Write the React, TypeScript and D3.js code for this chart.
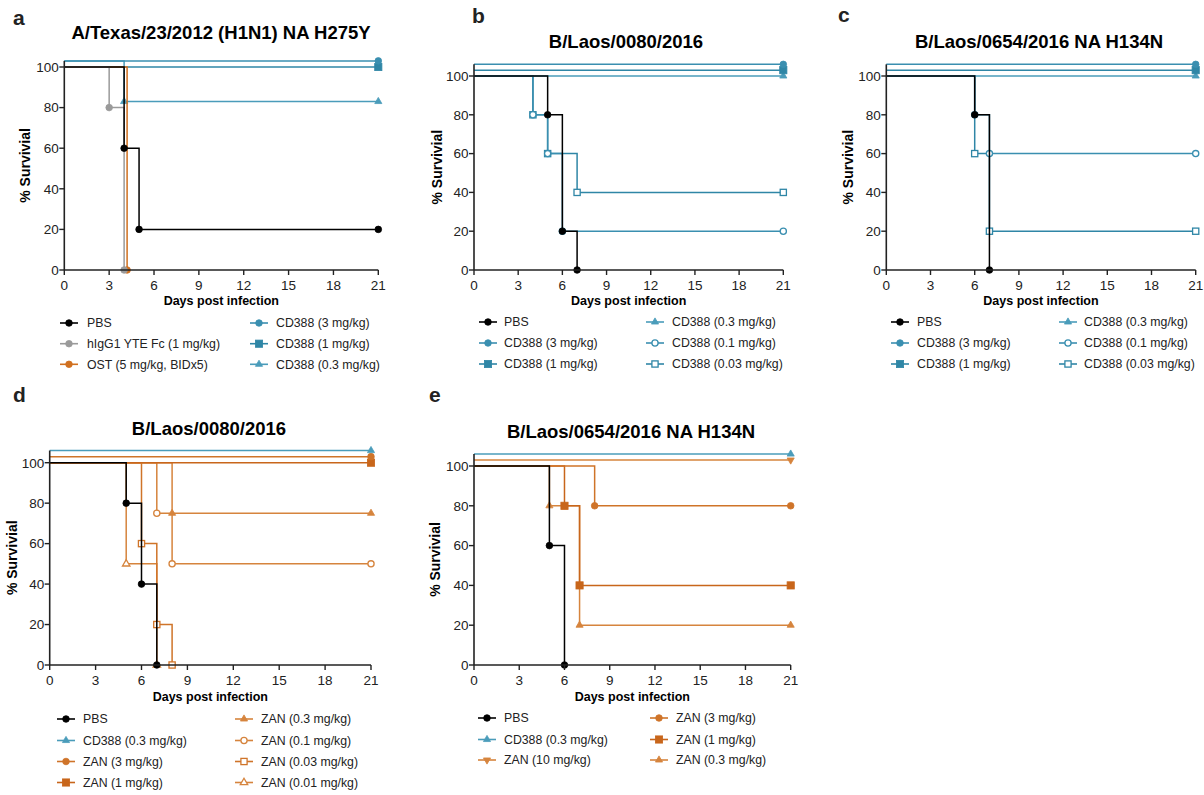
import React from "react";
import * as d3 from "d3";

// ---------- shared ticks ----------
const DAY_TICKS = [0, 3, 6, 9, 12, 15, 18, 21];
const SURV_TICKS = [0, 20, 40, 60, 80, 100];

// ---------- panel a : A/Texas/23/2012 (H1N1) NA H275Y ----------
const A_PBS_DAYS = [0, 4, 5, 21];
const A_PBS_SURV = [100, 60, 20, 20];
const A_IGG_DAYS = [0, 3, 4];
const A_IGG_SURV = [100, 80, 0];
const A_OST_DAYS = [0, 4.2];
const A_OST_SURV = [100, 0];
const A_CD3_DAYS = [0, 21];
const A_CD3_SURV = [100, 100];
const A_CD1_DAYS = [0, 21];
const A_CD1_SURV = [100, 100];
const A_CD03_DAYS = [0, 4, 21];
const A_CD03_SURV = [100, 80, 80];

// ---------- panel b : B/Laos/0080/2016 ----------
const B_PBS_DAYS = [0, 5, 6, 7];
const B_PBS_SURV = [100, 80, 20, 0];
const B_CD3_DAYS = [0, 21];
const B_CD3_SURV = [100, 100];
const B_CD1_DAYS = [0, 21];
const B_CD1_SURV = [100, 100];
const B_CD03_DAYS = [0, 21];
const B_CD03_SURV = [100, 100];
const B_CD01_DAYS = [0, 4, 5, 6, 21];
const B_CD01_SURV = [100, 80, 60, 20, 20];
const B_CD003_DAYS = [0, 4, 5, 7, 21];
const B_CD003_SURV = [100, 80, 60, 40, 40];

// ---------- panel c : B/Laos/0654/2016 NA H134N ----------
const C_PBS_DAYS = [0, 6, 7];
const C_PBS_SURV = [100, 80, 0];
const C_CD3_DAYS = [0, 21];
const C_CD3_SURV = [100, 100];
const C_CD1_DAYS = [0, 21];
const C_CD1_SURV = [100, 100];
const C_CD03_DAYS = [0, 21];
const C_CD03_SURV = [100, 100];
const C_CD01_DAYS = [0, 6, 7, 21];
const C_CD01_SURV = [100, 80, 60, 60];
const C_CD003_DAYS = [0, 6, 7, 21];
const C_CD003_SURV = [100, 60, 20, 20];

// ---------- panel d : B/Laos/0080/2016 ----------
const D_PBS_DAYS = [0, 5, 6, 7];
const D_PBS_SURV = [100, 80, 40, 0];
const D_CD03_DAYS = [0, 21];
const D_CD03_SURV = [100, 100];
const D_ZAN3_DAYS = [0, 21];
const D_ZAN3_SURV = [100, 100];
const D_ZAN1_DAYS = [0, 21];
const D_ZAN1_SURV = [100, 100];
const D_ZAN03_DAYS = [0, 8, 21];
const D_ZAN03_SURV = [100, 75, 75];
const D_ZAN01_DAYS = [0, 7, 8, 21];
const D_ZAN01_SURV = [100, 75, 50, 50];
const D_ZAN003_DAYS = [0, 6, 7, 8];
const D_ZAN003_SURV = [100, 60, 20, 0];
const D_ZAN001_DAYS = [0, 5, 7];
const D_ZAN001_SURV = [100, 50, 0];

// ---------- panel e : B/Laos/0654/2016 NA H134N ----------
const E_PBS_DAYS = [0, 5, 6];
const E_PBS_SURV = [100, 60, 0];
const E_CD03_DAYS = [0, 21];
const E_CD03_SURV = [100, 100];
const E_ZAN10_DAYS = [0, 21];
const E_ZAN10_SURV = [100, 100];
const E_ZAN3_DAYS = [0, 8, 21];
const E_ZAN3_SURV = [100, 80, 80];
const E_ZAN1_DAYS = [0, 6, 7, 21];
const E_ZAN1_SURV = [100, 80, 40, 40];
const E_ZAN03_DAYS = [0, 5, 7, 21];
const E_ZAN03_SURV = [100, 80, 20, 20];

// ---------- styles ----------
const BLACK = "#000000";
const GRAY = "#9a9a9a";
const OST = "#d0701f";
const TEAL_A = "#3a8fb0";
const TEAL_B = "#2f86a6";
const TEAL_C = "#4a9cba";
const ZAN_DARK = "#c8661b";
const ZAN_MID = "#cf7429";
const ZAN_LIGHT = "#d6843d";
const FONT = "'Liberation Sans', Arial, Helvetica, sans-serif";

type Shape = "circle" | "square" | "triangle" | "triangleDown";
interface Series {
  label: string;
  days: number[];
  surv: number[];
  offset: number;
  color: string;
  shape: Shape;
  filled: boolean;
}
interface PanelCfg {
  letter: string;
  letterX: number;
  letterY: number;
  title: string;
  titleX: number;
  titleY: number;
  x0: number;
  x1: number;
  y100: number;
  y0: number;
  ylabX: number;
  xlabY: number;
  legendRows: number[];
  legendCols: number[];
  legendTextCols: number[];
  perCol: number;
  series: Series[];
}

const mk = (label: string, days: number[], surv: number[], offset: number, color: string, shape: Shape, filled: boolean): Series =>
  ({ label, days, surv, offset, color, shape, filled });

const PANELS: PanelCfg[] = [
  {
    letter: "a", letterX: 13, letterY: 25,
    title: "A/Texas/23/2012 (H1N1) NA H275Y", titleX: 221, titleY: 39,
    x0: 64.3, x1: 378.3, y100: 67, y0: 270, ylabX: 25, xlabY: 305,
    legendRows: [323, 343.7, 364.3], legendCols: [60, 250], legendTextCols: [87, 276], perCol: 3,
    series: [
      mk("PBS", A_PBS_DAYS, A_PBS_SURV, 0, BLACK, "circle", true),
      mk("hIgG1 YTE Fc (1 mg/kg)", A_IGG_DAYS, A_IGG_SURV, 0, GRAY, "circle", true),
      mk("OST (5 mg/kg, BIDx5)", A_OST_DAYS, A_OST_SURV, 0, OST, "circle", true),
      mk("CD388 (3 mg/kg)", A_CD3_DAYS, A_CD3_SURV, 3, TEAL_A, "circle", true),
      mk("CD388 (1 mg/kg)", A_CD1_DAYS, A_CD1_SURV, 0, TEAL_B, "square", true),
      mk("CD388 (0.3 mg/kg)", A_CD03_DAYS, A_CD03_SURV, 3, TEAL_C, "triangle", true),
    ],
  },
  {
    letter: "b", letterX: 472, letterY: 23,
    title: "B/Laos/0080/2016", titleX: 626, titleY: 48,
    x0: 474, x1: 783.3, y100: 76, y0: 270, ylabX: 437, xlabY: 305,
    legendRows: [322, 343, 364], legendCols: [479, 646], legendTextCols: [504, 672], perCol: 3,
    series: [
      mk("PBS", B_PBS_DAYS, B_PBS_SURV, 0, BLACK, "circle", true),
      mk("CD388 (3 mg/kg)", B_CD3_DAYS, B_CD3_SURV, 6, TEAL_A, "circle", true),
      mk("CD388 (1 mg/kg)", B_CD1_DAYS, B_CD1_SURV, 3, TEAL_B, "square", true),
      mk("CD388 (0.3 mg/kg)", B_CD03_DAYS, B_CD03_SURV, 0, TEAL_C, "triangle", true),
      mk("CD388 (0.1 mg/kg)", B_CD01_DAYS, B_CD01_SURV, 0, TEAL_A, "circle", false),
      mk("CD388 (0.03 mg/kg)", B_CD003_DAYS, B_CD003_SURV, 0, TEAL_B, "square", false),
    ],
  },
  {
    letter: "c", letterX: 838, letterY: 22,
    title: "B/Laos/0654/2016 NA H134N", titleX: 1039, titleY: 48,
    x0: 886.3, x1: 1195.7, y100: 76, y0: 270, ylabX: 848, xlabY: 305,
    legendRows: [322, 343, 364], legendCols: [891, 1059], legendTextCols: [917, 1084], perCol: 3,
    series: [
      mk("PBS", C_PBS_DAYS, C_PBS_SURV, 0, BLACK, "circle", true),
      mk("CD388 (3 mg/kg)", C_CD3_DAYS, C_CD3_SURV, 6, TEAL_A, "circle", true),
      mk("CD388 (1 mg/kg)", C_CD1_DAYS, C_CD1_SURV, 3, TEAL_B, "square", true),
      mk("CD388 (0.3 mg/kg)", C_CD03_DAYS, C_CD03_SURV, 0, TEAL_C, "triangle", true),
      mk("CD388 (0.1 mg/kg)", C_CD01_DAYS, C_CD01_SURV, 0, TEAL_A, "circle", false),
      mk("CD388 (0.03 mg/kg)", C_CD003_DAYS, C_CD003_SURV, 0, TEAL_B, "square", false),
    ],
  },
  {
    letter: "d", letterX: 13, letterY: 402,
    title: "B/Laos/0080/2016", titleX: 209, titleY: 435,
    x0: 49.7, x1: 371, y100: 462.7, y0: 665, ylabX: 12, xlabY: 701,
    legendRows: [719, 740.5, 761.5, 782.5], legendCols: [57, 235], legendTextCols: [83, 261], perCol: 4,
    series: [
      mk("PBS", D_PBS_DAYS, D_PBS_SURV, 0, BLACK, "circle", true),
      mk("CD388 (0.3 mg/kg)", D_CD03_DAYS, D_CD03_SURV, 6, TEAL_C, "triangle", true),
      mk("ZAN (3 mg/kg)", D_ZAN3_DAYS, D_ZAN3_SURV, 3, ZAN_MID, "circle", true),
      mk("ZAN (1 mg/kg)", D_ZAN1_DAYS, D_ZAN1_SURV, 0, ZAN_DARK, "square", true),
      mk("ZAN (0.3 mg/kg)", D_ZAN03_DAYS, D_ZAN03_SURV, 0, ZAN_LIGHT, "triangle", true),
      mk("ZAN (0.1 mg/kg)", D_ZAN01_DAYS, D_ZAN01_SURV, 0, ZAN_LIGHT, "circle", false),
      mk("ZAN (0.03 mg/kg)", D_ZAN003_DAYS, D_ZAN003_SURV, 0, ZAN_MID, "square", false),
      mk("ZAN (0.01 mg/kg)", D_ZAN001_DAYS, D_ZAN001_SURV, 0, ZAN_LIGHT, "triangle", false),
    ],
  },
  {
    letter: "e", letterX: 429, letterY: 402,
    title: "B/Laos/0654/2016 NA H134N", titleX: 631, titleY: 438,
    x0: 474, x1: 790.7, y100: 466, y0: 665, ylabX: 435, xlabY: 701,
    legendRows: [718, 739.5, 760], legendCols: [478, 650], legendTextCols: [504, 676], perCol: 3,
    series: [
      mk("PBS", E_PBS_DAYS, E_PBS_SURV, 0, BLACK, "circle", true),
      mk("CD388 (0.3 mg/kg)", E_CD03_DAYS, E_CD03_SURV, 6, TEAL_C, "triangle", true),
      mk("ZAN (10 mg/kg)", E_ZAN10_DAYS, E_ZAN10_SURV, 3, ZAN_LIGHT, "triangleDown", true),
      mk("ZAN (3 mg/kg)", E_ZAN3_DAYS, E_ZAN3_SURV, 0, ZAN_MID, "circle", true),
      mk("ZAN (1 mg/kg)", E_ZAN1_DAYS, E_ZAN1_SURV, 0, ZAN_DARK, "square", true),
      mk("ZAN (0.3 mg/kg)", E_ZAN03_DAYS, E_ZAN03_SURV, 0, ZAN_LIGHT, "triangle", true),
    ],
  },
];

function Marker({ x, y, s }: { x: number; y: number; s: Series }) {
  const fill = s.filled ? s.color : "#ffffff";
  const sw = s.filled ? 0.8 : 1.3;
  if (s.shape === "circle") {
    return <circle cx={x} cy={y} r={s.filled ? 3.3 : 3.1} fill={fill} stroke={s.color} strokeWidth={sw} />;
  }
  if (s.shape === "square") {
    const h = s.filled ? 3.6 : 3.1;
    return <rect x={x - h} y={y - h} width={2 * h} height={2 * h} fill={fill} stroke={s.color} strokeWidth={sw} />;
  }
  const p = d3.symbol().type(d3.symbolTriangle).size(s.filled ? 22 : 24)() || "";
  const rot = s.shape === "triangleDown" ? " rotate(180)" : "";
  return <path d={p} transform={`translate(${x},${y})${rot}`} fill={fill} stroke={s.color} strokeWidth={sw} />;
}

function Panel({ cfg }: { cfg: PanelCfg }) {
  const x = d3.scaleLinear().domain([0, 21]).range([cfg.x0, cfg.x1]);
  const y = d3.scaleLinear().domain([0, 100]).range([cfg.y0, cfg.y100]);
  const maxOff = d3.max(cfg.series, (s) => s.offset) || 0;
  const line = d3
    .line<[number, number]>()
    .x((d) => x(d[0]))
    .y((d) => y(d[1]))
    .curve(d3.curveStepAfter);
  const drawOrder = cfg.series.slice().reverse();
  return (
    <g>
      <text x={cfg.letterX} y={cfg.letterY} fontSize={21} fontWeight="bold" fill="#222">{cfg.letter}</text>
      <text x={cfg.titleX} y={cfg.titleY} fontSize={18.5} fontWeight="bold" textAnchor="middle" fill="#000">{cfg.title}</text>
      {drawOrder.map((s, i) => {
        const pts: [number, number][] = s.days.map((d, k) => [d, s.surv[k] + s.offset]);
        return (
          <g key={i}>
            <path d={line(pts) || ""} fill="none" stroke={s.color} strokeWidth={1.5} />
            {pts.slice(1).map((p, k) => (
              <Marker key={k} x={x(p[0])} y={y(p[1])} s={s} />
            ))}
          </g>
        );
      })}
      <line x1={cfg.x0} x2={cfg.x1} y1={cfg.y0} y2={cfg.y0} stroke="#222" strokeWidth={1.6} />
      <line x1={cfg.x0} x2={cfg.x0} y1={cfg.y0} y2={y(100 + maxOff)} stroke="#222" strokeWidth={1.6} />
      {DAY_TICKS.map((t) => (
        <g key={t}>
          <line x1={x(t)} x2={x(t)} y1={cfg.y0} y2={cfg.y0 + 5} stroke="#222" strokeWidth={1.4} />
          <text x={x(t)} y={cfg.y0 + 20} fontSize={13.5} textAnchor="middle" fill="#222">{t}</text>
        </g>
      ))}
      {SURV_TICKS.map((t) => (
        <g key={t}>
          <line x1={cfg.x0 - 5} x2={cfg.x0} y1={y(t)} y2={y(t)} stroke="#222" strokeWidth={1.4} />
          <text x={cfg.x0 - 5.5} y={y(t) + 4.8} fontSize={13.5} textAnchor="end" fill="#222">{t}</text>
        </g>
      ))}
      <text x={(cfg.x0 + cfg.x1) / 2} y={cfg.xlabY} fontSize={12.5} fontWeight="bold" textAnchor="middle" fill="#000">
        Days post infection
      </text>
      <text
        transform={`translate(${cfg.ylabX + 5},${(cfg.y0 + y(100 + maxOff)) / 2}) rotate(-90)`}
        fontSize={14}
        fontWeight="bold"
        textAnchor="middle"
        fill="#000"
      >
        % Survivial
      </text>
      {cfg.series.map((s, i) => {
        const col = Math.floor(i / cfg.perCol);
        const row = i % cfg.perCol;
        const ly = cfg.legendRows[row];
        const lx = cfg.legendCols[col];
        return (
          <g key={"l" + i}>
            <line x1={lx} x2={lx + 18} y1={ly} y2={ly} stroke={s.color} strokeWidth={1.6} />
            <Marker x={lx + 9} y={ly} s={s} />
            <text x={cfg.legendTextCols[col]} y={ly + 4.4} fontSize={12.3} fill="#222">{s.label}</text>
          </g>
        );
      })}
    </g>
  );
}

export default function App() {
  return (
    <svg
      width={1204}
      height={795}
      style={{ position: "absolute", left: 0, top: 0, background: "#fff", fontFamily: FONT }}
    >
      <rect width={1204} height={795} fill="#fff" />
      {PANELS.map((p, i) => (
        <Panel key={i} cfg={p} />
      ))}
    </svg>
  );
}
